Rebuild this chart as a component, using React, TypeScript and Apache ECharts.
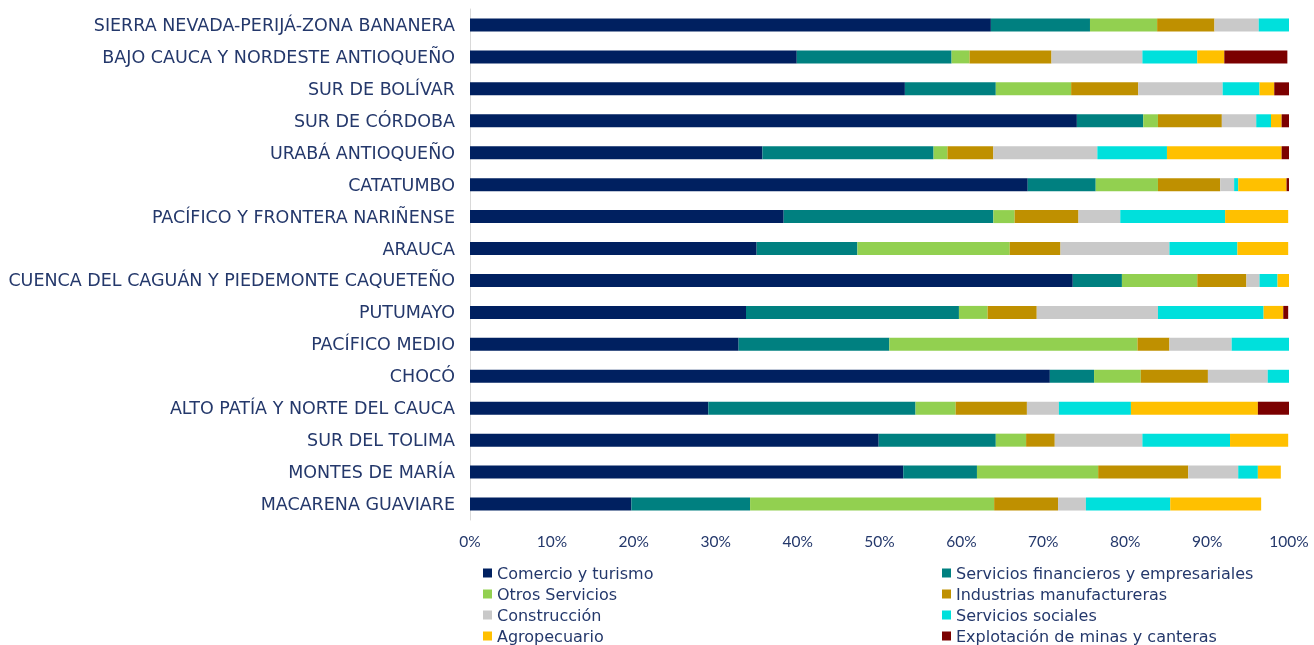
import React, { useEffect, useRef } from "react";
import * as echarts from "echarts";

const categories = [
  "SIERRA NEVADA-PERIJÁ-ZONA BANANERA",
  "BAJO CAUCA Y NORDESTE ANTIOQUEÑO",
  "SUR DE BOLÍVAR",
  "SUR DE CÓRDOBA",
  "URABÁ ANTIOQUEÑO",
  "CATATUMBO",
  "PACÍFICO Y FRONTERA NARIÑENSE",
  "ARAUCA",
  "CUENCA DEL CAGUÁN Y PIEDEMONTE CAQUETEÑO",
  "PUTUMAYO",
  "PACÍFICO MEDIO",
  "CHOCÓ",
  "ALTO PATÍA Y NORTE DEL CAUCA",
  "SUR DEL TOLIMA",
  "MONTES DE MARÍA",
  "MACARENA GUAVIARE",
];

const seriesNames = [
  "Comercio y turismo",
  "Servicios financieros y empresariales",
  "Otros Servicios",
  "Industrias manufactureras",
  "Construcción",
  "Servicios sociales",
  "Agropecuario",
  "Explotación de minas y canteras",
];

const comercio = [63.6, 39.9, 53.1, 74.1, 35.7, 68.1, 38.3, 35.0, 73.6, 33.7, 32.8, 70.8, 29.1, 49.9, 52.9, 19.7];
const financieros = [12.1, 18.9, 11.1, 8.1, 20.9, 8.3, 25.6, 12.3, 6.0, 26.0, 18.4, 5.4, 25.3, 14.3, 9.0, 14.5];
const otros = [8.2, 2.2, 9.2, 1.8, 1.7, 7.6, 2.6, 18.6, 9.2, 3.5, 30.3, 5.7, 4.9, 3.7, 14.8, 29.8];
const industrias = [7.0, 10.0, 8.2, 7.8, 5.6, 7.6, 7.8, 6.2, 6.0, 6.0, 3.9, 8.2, 8.7, 3.5, 11.0, 7.8];
const construccion = [5.4, 11.1, 10.3, 4.2, 12.7, 1.7, 5.1, 13.3, 1.6, 14.8, 7.6, 7.3, 3.9, 10.7, 6.1, 3.4];
const sociales = [3.7, 6.7, 4.5, 1.8, 8.5, 0.5, 12.8, 8.3, 2.2, 12.9, 7.0, 2.6, 8.8, 10.7, 2.4, 10.3];
const agropecuario = [0, 3.3, 1.8, 1.3, 14.0, 5.9, 7.7, 6.2, 1.4, 2.4, 0, 0, 15.5, 7.1, 2.8, 11.1];
const minas = [0, 7.7, 1.8, 0.9, 0.9, 0.4, 0, 0, 0, 0.6, 0, 0, 3.9, 0, 0, 0];

const xTicks = [0, 10, 20, 30, 40, 50, 60, 70, 80, 90, 100];

const colors = ["#002060", "#008080", "#92D050", "#BF9000", "#C9C9C9", "#00E0DC", "#FFC000", "#7B0000"];
const values = [comercio, financieros, otros, industrias, construccion, sociales, agropecuario, minas];

const textColor = "#24386B";

export default function App() {
  const ref = useRef<HTMLDivElement>(null);
  useEffect(() => {
    if (!ref.current) return;
    const chart = echarts.init(ref.current, undefined, { renderer: "svg" });
    const legendBase = {
      orient: "vertical" as const,
      itemWidth: 9,
      itemHeight: 9,
      itemGap: 0,
      height: 120,
      padding: 0,
      icon: "rect",
      textStyle: {
        color: textColor,
        fontSize: 16,
        fontFamily: "DejaVu Sans",
        lineHeight: 21,
      },
    };
    chart.setOption({
      animation: false,
      grid: { left: 470, right: 25, top: 9, bottom: 125, containLabel: false },
      xAxis: {
        type: "value",
        min: xTicks[0],
        max: xTicks[xTicks.length - 1],
        interval: 10,
        axisLine: { show: false },
        axisTick: { show: false },
        splitLine: { show: false },
        axisLabel: {
          formatter: "{value}%",
          color: textColor,
          fontSize: 15.5,
          fontFamily: "Lato",
          margin: 13,
        },
      },
      yAxis: {
        type: "category",
        data: categories,
        inverse: true,
        axisLine: { show: true, lineStyle: { color: "#D9D9D9", width: 1 } },
        axisTick: { show: false },
        axisLabel: { color: textColor, fontSize: 17.5, fontFamily: "DejaVu Sans", margin: 15 },
      },
      legend: [
        { ...legendBase, left: 483, top: 562.5, data: [seriesNames[0], seriesNames[2], seriesNames[4], seriesNames[6]] },
        { ...legendBase, left: 942, top: 562.5, data: [seriesNames[1], seriesNames[3], seriesNames[5], seriesNames[7]] },
      ],
      series: seriesNames.map((name, i) => ({
        name,
        type: "bar",
        stack: "total",
        barWidth: 13,
        itemStyle: { color: colors[i] },
        data: values[i],
      })),
    });
    return () => chart.dispose();
  }, []);
  return <div ref={ref} style={{ position: "fixed", left: 0, top: 0, width: 1314, height: 645 }} />;
}
